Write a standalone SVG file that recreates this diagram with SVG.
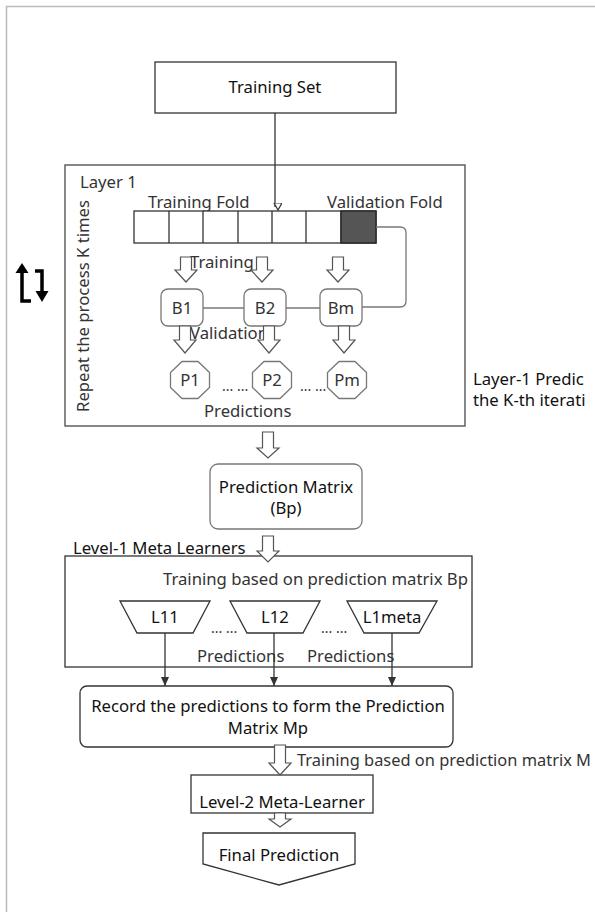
<svg xmlns="http://www.w3.org/2000/svg" width="595" height="912" viewBox="0 0 595 912">
<defs>
<style>
text{font-family:"Noto Sans","Open Sans",sans-serif;font-size:16.7px;fill:#333}
.dk{fill:#111}
.mid{text-anchor:middle}
.dots{font-size:14px}
.box{fill:#fff;stroke:#333;stroke-width:1.3}
.gbox{fill:#fff;stroke:#777;stroke-width:1.3}
.barr{fill:#fff;stroke:#555;stroke-width:1.2}
.ln{fill:none;stroke:#333;stroke-width:1.3}
.gln{fill:none;stroke:#777;stroke-width:1.3}
</style>
<marker id="open" markerWidth="10" markerHeight="10" refX="4" refY="7" orient="auto" markerUnits="userSpaceOnUse" viewBox="0 0 10 10">
<path d="M0,0 L8,0 L4,7 Z" transform="rotate(-90 4 4)" fill="#fff" stroke="#333" stroke-width="1.2"/>
</marker>
<marker id="fill" markerWidth="10" markerHeight="10" refX="9" refY="5" orient="auto" markerUnits="userSpaceOnUse" viewBox="0 0 10 10">
<path d="M0,1 L9,5 L0,9 Z" fill="#333"/>
</marker>
</defs>
<rect width="595" height="912" fill="#fff"/>
<path d="M6.5,912 V6.5 H595" fill="none" stroke="#bbb" stroke-width="1.5"/>

<g id="training-set">
<rect class="box" x="155" y="62" width="241" height="51"/>
<text class="mid dk" x="275" y="93">Training Set</text>
</g>

<g id="layer1">
<rect x="65" y="165" width="400" height="261" fill="none" stroke="#555" stroke-width="1.4"/>
<text x="80" y="188">Layer 1</text>
<text x="148" y="208">Training Fold</text>
<text x="327" y="208">Validation Fold</text>
<text class="mid" transform="translate(89,306) rotate(-90)">Repeat the process K times</text>
</g>

<g id="folds">
<rect class="box" x="134" y="211" width="242" height="32"/>
<path class="ln" d="M169,211V243M203,211V243M238,211V243M272,211V243M306,211V243M341,211V243"/>
<rect x="341" y="211" width="35" height="32" fill="#555" stroke="#222" stroke-width="1.3"/>
</g>

<g id="repeat-icon" fill="#000" stroke="#000">
<path d="M22,269 V301 H31" fill="none" stroke-width="3.5"/>
<path d="M15.5,273 L22,263 L28.5,273 Z" stroke="none"/>
<path d="M35,271 H42 V293" fill="none" stroke-width="3.5"/>
<path d="M35.5,291 L42,302 L48.5,291 Z" stroke="none"/>
</g>

<g id="B1"><rect class="gbox" x="161" y="289" width="42" height="37" rx="7"/><text class="mid" x="182" y="314">B1</text></g>
<g id="B2"><rect class="gbox" x="244" y="289" width="42" height="37" rx="7"/><text class="mid" x="265" y="314">B2</text></g>
<g id="Bm"><rect class="gbox" x="320" y="289" width="42" height="37" rx="7"/><text class="mid" x="341" y="314">Bm</text></g>

<g id="P1"><polygon class="gbox" points="209.5,372.5 198,361.5 182,361.5 170.5,372.5 170.5,387.5 182,398.5 198,398.5 209.5,387.5"/><text class="mid" x="190" y="386">P1</text></g>
<g id="P2"><polygon class="gbox" points="291.5,372.5 280,361.5 264,361.5 252.5,372.5 252.5,387.5 264,398.5 280,398.5 291.5,387.5"/><text class="mid" x="272" y="386">P2</text></g>
<g id="Pm"><polygon class="gbox" points="366.5,372.5 355,361.5 339,361.5 327.5,372.5 327.5,387.5 339,398.5 355,398.5 366.5,387.5"/><text class="mid" x="347" y="386">Pm</text></g>

<g id="layer1-labels">
<text x="190" y="268">Training</text>
<text x="190" y="339">Validation</text>
<text x="222" y="391" class="dots">... ...</text>
<text x="300" y="391" class="dots">... ...</text>
<text x="204" y="417">Predictions</text>
</g>

<g id="side-note">
<text x="473" y="385" class="dk">Layer-1 Predic</text>
<text x="473" y="406" class="dk">the K-th iterati</text>
</g>

<g id="prediction-matrix">
<rect class="gbox" x="210" y="464" width="152" height="65" rx="8"/>
<text class="mid dk" x="286" y="493">Prediction Matrix</text>
<text class="mid dk" x="286" y="514">(Bp)</text>
</g>

<g id="level1">
<text class="dk" x="73" y="554">Level-1 Meta Learners</text>
<rect x="65" y="556" width="407" height="111" fill="none" stroke="#333" stroke-width="1.3"/>
<text x="163" y="585">Training based on prediction matrix Bp</text>
</g>

<g id="L11"><polygon class="box" points="120,601 210,601 193,633 137,633"/><text class="mid dk" x="165" y="623">L11</text></g>
<g id="L12"><polygon class="box" points="230,601 320,601 303,633 247,633"/><text class="mid dk" x="275" y="623">L12</text></g>
<g id="L1meta"><polygon class="box" points="347,601 437,601 419,633 364,633"/><text class="mid dk" x="392" y="623">L1meta</text></g>
<g id="level1-labels">
<text x="211" y="633" class="dots">... ...</text>
<text x="321" y="633" class="dots">... ...</text>
<text x="197" y="662">Predictions</text>
<text x="307" y="662">Predictions</text>
</g>

<g id="record">
<rect class="box" x="80" y="686" width="373" height="61" rx="7"/>
<text class="mid dk" x="268" y="712">Record the predictions to form the Prediction</text>
<text class="mid dk" x="268" y="734">Matrix Mp</text>
</g>
<text x="297" y="766" textLength="294" lengthAdjust="spacingAndGlyphs">Training based on prediction matrix M</text>

<g id="level2">
<rect class="box" x="191" y="775" width="182" height="38"/>
<text class="mid dk" x="282" y="808">Level-2 Meta-Learner</text>
</g>

<g id="final">
<polygon class="box" points="203,833 355,833 355,864 279,885 203,864"/>
<text class="mid dk" x="279" y="861">Final Prediction</text>
</g>

<g id="connectors">
<line class="ln" x1="275" y1="113" x2="275" y2="207" marker-end="url(#open)"/>
<path class="gln" d="M376,227 H400 Q406,227 406,233 V301 Q406,307 400,307 H362"/>
<line class="gln" x1="203" y1="308" x2="244" y2="308"/>
<line class="gln" x1="286" y1="308" x2="320" y2="308"/>
<line class="ln" x1="165" y1="633" x2="165" y2="686" marker-end="url(#fill)"/>
<line class="ln" x1="274" y1="633" x2="274" y2="686" marker-end="url(#fill)"/>
<line class="ln" x1="392" y1="633" x2="392" y2="686" marker-end="url(#fill)"/>
<polygon class="barr" points="180.5,257 191.5,257 191.5,270 197,270 186,282 175,270 180.5,270"/>
<polygon class="barr" points="256.5,257 267.5,257 267.5,270 273,270 262,282 251,270 256.5,270"/>
<polygon class="barr" points="332.5,257 343.5,257 343.5,270 349,270 338,282 327,270 332.5,270"/>
<polygon class="barr" points="179.5,326 190.5,326 190.5,340 196,340 185,353 174,340 179.5,340"/>
<polygon class="barr" points="263.5,326 274.5,326 274.5,340 280,340 269,353 258,340 263.5,340"/>
<polygon class="barr" points="338.5,326 349.5,326 349.5,340 355,340 344,353 333,340 338.5,340"/>
<polygon class="barr" points="262.5,432 273.5,432 273.5,448 279,448 268,458 257,448 262.5,448"/>
<polygon class="barr" points="262.5,536 273.5,536 273.5,551 279,551 268,562 257,551 262.5,551"/>
<polygon class="barr" points="274.5,745 285.5,745 285.5,763 291,763 280,775 269,763 274.5,763"/>
<polygon class="barr" points="274.5,813 285.5,813 285.5,819 291,819 280,827 269,819 274.5,819"/>
</g>
</svg>
